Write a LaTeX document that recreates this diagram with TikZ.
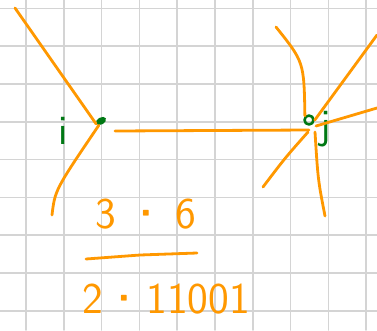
\documentclass[tikz,border=0pt]{standalone}
\usepackage{amsmath}
\usetikzlibrary{shapes.geometric}
\definecolor{pen}{RGB}{255,152,0}
\definecolor{ink}{RGB}{0,120,20}
\definecolor{gridgray}{RGB}{212,212,212}

\begin{document}
\begin{tikzpicture}[x=1pt,y=-1pt,line cap=round,line join=round,
  gridline/.style={gridgray,line width=1.6pt},
  stroke/.style={pen,line width=2.8pt},
  hand/.style={pen,font=\sffamily\fontsize{44}{44}\selectfont,inner sep=0pt},
  lbl/.style={ink,font=\sffamily\fontsize{42}{42}\selectfont,inner sep=0pt}]
\useasboundingbox (0,0) rectangle (377,330);
\fill[white] (0,0) rectangle (377,330);
\foreach \k in {0,...,9} \draw[gridline] ({26+37.8*\k},0) -- ++(0,330);
\foreach \k in {0,...,8} \draw[gridline] (0,{8.3+37.8*\k}) -- ++(377,0);
\node[ink,fill,ellipse,rotate=30,inner sep=0pt,minimum width=11pt,minimum height=7pt] (i) at (101,121) {};
\node[ink,draw,circle,line width=2.6pt,inner sep=0pt,minimum size=9pt] (j) at (309,120) {};
\node[lbl] (ilabel) at (63,131) {i};
\node[lbl] (jlabel) at (326,129) {j};
\coordinate (a1) at (15,8);
\coordinate (a2) at (52,215);
\coordinate (b1) at (276,27);
\coordinate (b2) at (377,35);
\coordinate (b3) at (377,108);
\coordinate (b4) at (263,187);
\coordinate (b5) at (325,216);
\draw[stroke] (a1) -- (i.west);
\draw[stroke] (a2) .. controls (55,190) .. (i.south west);
\draw[stroke] ([yshift=-10pt]i.center) ++(14,0) -- ([yshift=-10pt]j.center) -- ++(-14,0);
\draw[stroke] (b1) .. controls (304,62) .. (j.north west);
\draw[stroke] (b2) -- (j.east);
\draw[stroke] (b3) -- ([shift={(7,6)}]j.center);
\draw[stroke] (b4) .. controls (285,158) .. ([shift={(-1,12)}]j.center);
\draw[stroke] (b5) .. controls (318,180) .. ([shift={(6,12)}]j.center);
\node[hand] (num) at (146,214) {3\hspace{11pt}{\bfseries\textperiodcentered}\hspace{11pt}6};
\draw[stroke] (86,259) -- (140,255) -- (197,253);
\node[hand,anchor=west] (den) at (82,299) {2\hspace{3pt}{\bfseries\textperiodcentered}\hspace{3pt}11001};
\end{tikzpicture}
\end{document}
